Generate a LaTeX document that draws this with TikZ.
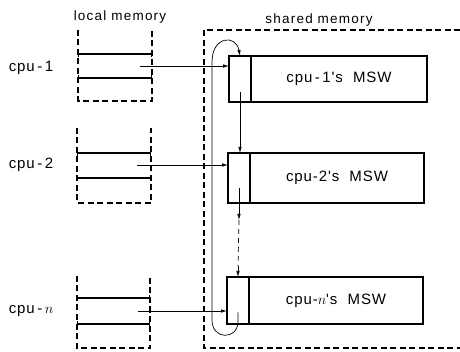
\documentclass[tikz,border=0pt]{standalone}
\usepackage{fontspec}
\setmainfont{Liberation Sans}
\newfontfamily\lsp[LetterSpace=6]{Liberation Sans}
\newfontfamily\hsp[LetterSpace=9]{Liberation Sans}
\usetikzlibrary{arrows.meta,calc}
\begin{document}
\begin{tikzpicture}[x=1pt,y=-1pt,
  lbl/.style={font=\lsp\fontsize{15}{17}\selectfont, inner sep=0pt},
  hdr/.style={font=\hsp\fontsize{13.5}{15}\selectfont, inner sep=0pt},
  dsh/.style={line width=1.1pt, dash pattern=on 6pt off 3.5pt},
  slot/.style={line width=1.1pt, {Bar[width=6pt,line width=1.1pt]}-{Bar[width=6pt,line width=1.1pt]}},
  box/.style={draw, line width=1.1pt, inner sep=0pt, outer sep=0pt, anchor=north west},
  arr/.style={line width=0.7pt, -{Latex[length=6pt,width=3.5pt]}}
]
\useasboundingbox (0,0) rectangle (460,352);

% headers
\node[hdr] (hl) at (120,17) {local memory};
\node[hdr] (hs) at (319,20) {shared memory};

% cpu labels
\node[lbl] (c1) at (31,68) {cpu\,-\,1};
\node[lbl] (c2) at (31,165) {cpu\,-\,2};
\node[lbl] (cn) at (31,311) {cpu\,-\,$n$};

% local memory blocks
\draw[dsh] (78,30) -- (78,101) -- (152,101) -- (152,30);
\draw[slot] (78,54) -- (152,54);
\draw[slot] (78,78) -- (152,78);
\coordinate (l1) at (140,66);

\draw[dsh] (77,128) -- (77,203) -- (151,203) -- (151,128);
\draw[slot] (77,153) -- (151,153);
\draw[slot] (77,178) -- (151,178);
\coordinate (l2) at (137,165);

\draw[dsh] (77,276) -- (77,348) -- (150,348) -- (150,276);
\draw[slot] (77,298) -- (150,298);
\draw[slot] (77,324) -- (150,324);
\coordinate (ln) at (138,311);

% shared memory frame
\draw[dsh] (460,30) -- (204,30) -- (204,348) -- (460,348);

% MSW boxes
\node[box, minimum width=22pt, minimum height=46pt] (s1) at (229,56) {};
\node[box, minimum width=176pt, minimum height=46pt, font=\lsp\fontsize{15}{17}\selectfont] (m1) at (s1.north east) {cpu\,-\,1's\ \ MSW};
\node[box, minimum width=22pt, minimum height=50pt] (s2) at (228,153) {};
\node[box, minimum width=174pt, minimum height=50pt, font=\lsp\fontsize{15}{17}\selectfont] (m2) at (s2.north east) {cpu-2's\ \ MSW};
\node[box, minimum width=22pt, minimum height=47pt] (sn) at (227,277) {};
\node[box, minimum width=174pt, minimum height=47pt, font=\lsp\fontsize{15}{17}\selectfont] (mn) at (sn.north east) {cpu-$n$'s\ \ MSW};

% cpu -> MSW arrows
\draw[arr] (l1) -- (l1 -| s1.west);
\draw[arr] (l2) -- (l2 -| s2.west);
\draw[arr] (ln) -- (ln -| sn.west);

% chain
\coordinate (a1) at ($(s1.center)+(0,13)$);
\draw[arr] (a1) -- (a1 |- s2.north);
\coordinate (a2) at ($(s2.center)+(0,10)$);
\coordinate (a3) at ($(a2)+(0,32)$);
\coordinate (a4) at ($(sn.north)+(0,-11)$);
\draw[arr] (a2) -- (a3);
\draw[line width=0.7pt, dash pattern=on 5pt off 4pt] (a3) -- (a4);
\draw[arr] (a4) -- (sn.north);

% loop back
\coordinate (b1) at ($(sn.center)+(0,12)$);
\draw[line width=0.7pt, -{Latex[length=6pt,width=3.5pt]}]
  (b1) -- ($(b1)+(0,10)$) .. controls (237,340) and (212,340) .. (212,320)
  -- (212,62) .. controls (212,36) and (236,34) .. (s1.north);
\end{tikzpicture}
\end{document}
